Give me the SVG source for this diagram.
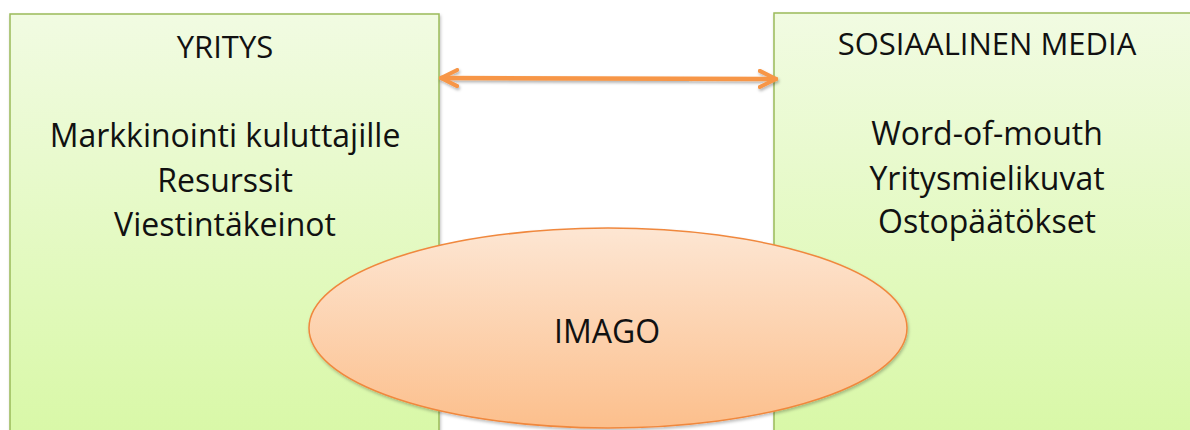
<svg xmlns="http://www.w3.org/2000/svg" width="1190" height="430" viewBox="0 0 1190 430">
<defs>
<linearGradient id="gGreen" x1="0" y1="0" x2="0" y2="1">
<stop offset="0" stop-color="#f1fbe2"/>
<stop offset="1" stop-color="#d8f8a6"/>
</linearGradient>
<linearGradient id="gOrange" x1="0" y1="0" x2="0" y2="1">
<stop offset="0" stop-color="#fde6d3"/>
<stop offset="1" stop-color="#fcbf8c"/>
</linearGradient>
<filter id="sh" x="-5%" y="-5%" width="110%" height="110%">
<feDropShadow dx="1" dy="2" stdDeviation="1.5" flood-color="#000" flood-opacity="0.25"/>
</filter>
<filter id="shL" filterUnits="userSpaceOnUse" x="420" y="55" width="380" height="50">
<feDropShadow dx="1" dy="2" stdDeviation="1.5" flood-color="#000" flood-opacity="0.3"/>
</filter>
<marker id="ah" viewBox="0 0 10 10" refX="9" refY="5" markerWidth="4.5" markerHeight="4.5" orient="auto-start-reverse" markerUnits="strokeWidth">
<path d="M1,1 L9,5 L1,9" fill="none" stroke="#f79646" stroke-width="2" stroke-linecap="round" stroke-linejoin="round"/>
</marker>
</defs>
<style>
.box{fill:url(#gGreen);stroke:#9bbb59;stroke-width:1.5;filter:url(#sh)}
.t{font-family:"Open Sans","Liberation Sans",sans-serif;fill:#111;text-anchor:middle;font-size:32px}
.h{font-size:31px}
</style>
<rect width="1190" height="430" fill="#fff"/>
<g id="yritys">
<rect class="box" x="10" y="14" width="429" height="430"/>
<text class="t h" x="225" y="58">YRITYS</text>
<text class="t" x="225" y="147">Markkinointi kuluttajille</text>
<text class="t" x="225" y="192">Resurssit</text>
<text class="t" x="225" y="236">Viestintäkeinot</text>
</g>
<g id="sosiaalinen-media">
<rect class="box" x="774" y="13" width="430" height="430"/>
<text class="t h" x="987" y="55">SOSIAALINEN  MEDIA</text>
<text class="t" x="987" y="145">Word-of-mouth</text>
<text class="t" x="987" y="190">Yritysmielikuvat</text>
<text class="t" x="987" y="233">Ostopäätökset</text>
</g>
<g id="connectors">
<line x1="441" y1="78" x2="776" y2="79" stroke="#f79646" stroke-width="4.5" stroke-linecap="round" marker-start="url(#ah)" marker-end="url(#ah)" filter="url(#shL)"/>
</g>
<g id="imago">
<ellipse cx="608" cy="328" rx="299" ry="100" fill="url(#gOrange)" stroke="#f0883e" stroke-width="1.5" filter="url(#sh)"/>
<text class="t" x="607" y="343">IMAGO</text>
</g>
</svg>
